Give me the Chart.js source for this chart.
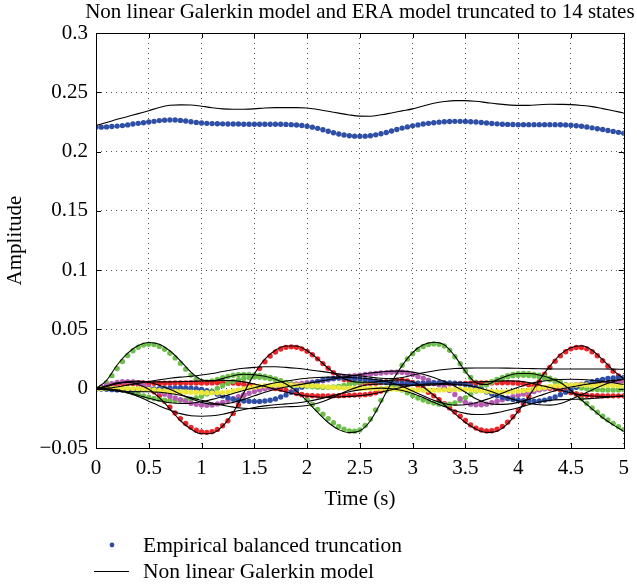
<!DOCTYPE html>
<html>
<head>
<meta charset="utf-8">
<script src="https://cdn.jsdelivr.net/npm/chart.js@4.4.1/dist/chart.umd.min.js"></script>
<style>
  html, body { margin: 0; padding: 0; background: #fff; }
  canvas { display: block; }
</style>
</head>
<body>
<canvas id="c" width="637" height="588"></canvas>
<script>
// ---------- tick labels ----------
const xTickValues = [0, 0.5, 1, 1.5, 2, 2.5, 3, 3.5, 4, 4.5, 5];
const xTickLabels = ["0", "0.5", "1", "1.5", "2", "2.5", "3", "3.5", "4", "4.5", "5"];
const yTickValues = [-0.05, 0, 0.05, 0.1, 0.15, 0.2, 0.25, 0.3];
const yTickLabels = ["\u22120.05", "0", "0.05", "0.1", "0.15", "0.2", "0.25", "0.3"];

// ---------- time samples ----------
const tDots = [0,.05,.1,.15,.2,.25,.3,.35,.4,.45,.5,.55,.6,.65,.7,.75,.8,.85,.9,.95,
1,1.05,1.1,1.15,1.2,1.25,1.3,1.35,1.4,1.45,1.5,1.55,1.6,1.65,1.7,1.75,1.8,1.85,1.9,1.95,
2,2.05,2.1,2.15,2.2,2.25,2.3,2.35,2.4,2.45,2.5,2.55,2.6,2.65,2.7,2.75,2.8,2.85,2.9,2.95,
3,3.05,3.1,3.15,3.2,3.25,3.3,3.35,3.4,3.45,3.5,3.55,3.6,3.65,3.7,3.75,3.8,3.85,3.9,3.95,
4,4.05,4.1,4.15,4.2,4.25,4.3,4.35,4.4,4.45,4.5,4.55,4.6,4.65,4.7,4.75,4.8,4.85,4.9,4.95,5];
const tLine = [0,.1,.2,.3,.4,.5,.6,.7,.8,.9,1,1.1,1.2,1.3,1.4,1.5,1.6,1.7,1.8,1.9,
2,2.1,2.2,2.3,2.4,2.5,2.6,2.7,2.8,2.9,3,3.1,3.2,3.3,3.4,3.5,3.6,3.7,3.8,3.9,
4,4.1,4.2,4.3,4.4,4.5,4.6,4.7,4.8,4.9,5];

// ---------- Empirical balanced truncation (dots) ----------
const ebtTop = [.2205,.2206,.2208,.2211,.2215,.2219,.2225,.2232,.2238,.2243,
.2249,.2255,.2261,.2265,.2267,.2266,.2263,.2258,.2252,.2246,
.2241,.2238,.2236,.2235,.2234,.2233,.2232,.2232,.2231,.2231,
.2231,.2231,.2231,.2231,.2231,.2230,.2229,.2227,.2224,.2220,
.2214,.2206,.2196,.2184,.2171,.2159,.2148,.2140,.2134,.2130,
.2129,.2130,.2134,.2141,.2150,.2161,.2173,.2186,.2198,.2208,
.2217,.2225,.2232,.2238,.2243,.2248,.2251,.2254,.2255,.2255,
.2254,.2252,.2249,.2245,.2241,.2237,.2234,.2231,.2229,.2228,
.2227,.2227,.2227,.2227,.2227,.2227,.2227,.2227,.2226,.2225,
.2222,.2218,.2213,.2207,.2200,.2193,.2186,.2178,.2170,.2162,
.2154];
const ebtGreen1 = [0,.001,.005,.011,.017,.023,.028,.032,.035,.0368,
.0375,.0372,.0357,.0333,.030,.026,.0215,.0165,.0115,.008,
.0062,.0058,.0065,.0078,.0092,.0104,.0113,.0119,.0121,.012,
.0117,.0112,.0104,.0094,.0082,.0068,.005,.0025,-.0008,-.0048,
-.009,-.0133,-.0175,-.0215,-.0252,-.0287,-.0318,-.0342,-.0356,-.0358,
-.0348,-.031,-.0255,-.018,-.0098,-.0015,.0065,.0138,.0198,.025,
.0295,.033,.0356,.0372,.0378,.0374,.036,.0325,.027,.021,
.015,.0095,.0055,.004,.0045,.006,.0078,.0095,.011,.012,
.0126,.0128,.0126,.0121,.0113,.0102,.0088,.0072,.0052,.0025,
-.001,-.0045,-.0085,-.0125,-.0163,-.0198,-.0232,-.0263,-.0292,-.032,
-.0345];
const ebtRed1 = [0,.0008,.0018,.003,.004,.0046,.0048,.0045,.0036,.0022,
.0002,-.0025,-.006,-.0105,-.0155,-.0205,-.0252,-.0293,-.0326,-.035,
-.0364,-.0368,-.0362,-.0343,-.0312,-.027,-.021,-.0135,-.0055,.0025,
.0102,.017,.0228,.0275,.031,.0335,.0349,.0353,.0349,.0336,
.0315,.0287,.0252,.0212,.0172,.0135,.0103,.0078,.0062,.0053,
.0048,.0046,.0046,.0047,.0052,.006,.0068,.0072,.0072,.0066,
.0052,.003,.0005,-.003,-.006,-.0093,-.0127,-.0162,-.0197,-.0232,
-.0268,-.0305,-.0332,-.0348,-.0356,-.0354,-.0342,-.0318,-.0282,-.0237,
-.0185,-.0127,-.0065,-.0002,.006,.0122,.018,.0232,.0277,.0312,
.0336,.0348,.0348,.0336,.0312,.0278,.0236,.0192,.0148,.0108,
.0075];
const ebtRed2 = [0,.001,.002,.003,.004,.0048,.0052,.0052,.005,.0048,
.0047,.0046,.0046,.0046,.0047,.0048,.0048,.0048,.0048,.0048,
.0048,.0048,.0049,.005,.005,.005,.0048,.0044,.0038,.003,
.0021,.0013,.0008,.0005,.0002,-.0004,-.0014,-.0027,-.004,-.005,
-.0056,-.0059,-.006,-.006,-.006,-.006,-.0059,-.0058,-.0056,-.0054,
-.0052,-.005,-.0045,-.0035,-.002,-.0003,.0012,.0025,.0034,.004,
.0043,.0044,.0044,.0044,.0043,.0042,.0042,.0042,.0043,.0044,
.0045,.0046,.0047,.0048,.0048,.0049,.005,.005,.005,.0049,
.0046,.0041,.0034,.0025,.0016,.0009,.0004,-.0001,-.0009,-.002,
-.0033,-.0044,-.0052,-.0056,-.0058,-.0059,-.006,-.006,-.006,-.006,
-.006];
const ebtMagenta = [0,.0012,.0028,.0042,.0053,.0059,.006,.0056,.0046,.0032,
.0014,-.0006,-.0027,-.0046,-.0063,-.0078,-.0093,-.0108,-.0122,-.0132,
-.0138,-.014,-.0137,-.0128,-.0115,-.01,-.0084,-.0068,-.0053,-.0038,
-.0024,-.0011,0,.0009,.0017,.0024,.003,.0035,.004,.0045,
.005,.0055,.006,.0067,.0075,.0083,.0091,.0098,.0105,.011,
.0115,.012,.0125,.0129,.0132,.0136,.0139,.014,.0139,.0132,
.012,.0104,.0088,.0071,.0053,.0034,.0012,-.0015,-.0048,-.0085,
-.0115,-.013,-.0135,-.0135,-.013,-.0119,-.0106,-.0093,-.008,-.0067,
-.0055,-.0045,-.0035,-.0023,-.001,0,.001,.0016,.0021,.0026,
.003,.0034,.0038,.0041,.0044,.0047,.005,.0052,.0054,.0056,
.0058];
const ebtBlue2 = [0,-.0002,-.0005,-.0008,-.001,-.0011,-.0011,-.001,-.0008,-.0006,
-.0004,-.0002,0,.0003,.0005,.0007,.0008,.0007,.0004,0,
-.0006,-.0016,-.003,-.0046,-.0062,-.0076,-.0088,-.0097,-.0103,-.0106,
-.0107,-.0107,-.0104,-.0097,-.0086,-.007,-.0052,-.003,-.0008,.0013,
.0033,.0049,.0062,.0073,.0081,.0087,.009,.0091,.009,.0087,
.0082,.0077,.0071,.0066,.006,.0055,.0051,.0048,.0046,.0045,
.0045,.0046,.0047,.0048,.0049,.005,.005,.0049,.0047,.0043,
.0036,.0025,.001,-.0008,-.0027,-.0045,-.006,-.0073,-.0083,-.0091,
-.0097,-.0101,-.0104,-.0105,-.0103,-.0096,-.0085,-.0069,-.005,-.0029,
-.0008,.0012,.003,.0046,.0059,.007,.0079,.0086,.0091,.0094,
.0096];
const ebtYellow = [0,.0001,.0002,.0003,.0003,.0003,.0002,.0001,0,-.0003,
-.0006,-.001,-.0014,-.0018,-.0021,-.0024,-.0026,-.0028,-.003,-.0031,
-.0032,-.0034,-.0035,-.0035,-.0033,-.0027,-.0019,-.001,-.0001,.0008,
.0015,.0021,.0025,.0028,.003,.0031,.0031,.0031,.003,.0029,
.0028,.0026,.0024,.002,.0015,.0011,.0008,.0005,.0004,.0003,
.0003,.0003,.0003,.0002,.0001,0,-.0002,-.0004,-.0006,-.0008,
-.001,-.0011,-.0012,-.0012,-.0012,-.0011,-.001,-.0008,-.0006,-.0005,
-.0006,-.0009,-.0013,-.0017,-.0021,-.0024,-.0026,-.0027,-.0026,-.0024,
-.002,-.0015,-.001,-.0003,.0004,.001,.0016,.0021,.0025,.0028,
.003,.0031,.0031,.0031,.003,.003,.0029,.0028,.0027,.0026,
.0025];
const ebtGreen2 = [0,0,0,-.0003,-.0007,-.0013,-.0022,-.0034,-.0047,-.006,
-.0072,-.0082,-.009,-.0096,-.0099,-.01,-.0099,-.0095,-.0088,-.0078,
-.0064,-.0045,-.0022,.0002,.0025,.0045,.0062,.0076,.0087,.0094,
.0098,.0097,.0092,.0084,.0074,.0063,.0052,.0042,.0034,.0027,
.0021,.0016,.0013,.0011,.0011,.0014,.0019,.0027,.0036,.0046,
.0055,.0062,.0066,.0066,.0061,.005,.0034,.0013,-.001,-.0035,
-.0058,-.0078,-.0095,-.0109,-.0121,-.013,-.0134,-.0131,-.012,-.01,
-.0075,-.0048,-.002,.0007,.0032,.0054,.0073,.0089,.0101,.0109,
.0113,.0114,.0112,.0107,.0099,.0088,.0075,.0061,.0047,.0034,
.0023,.0013,.0005,-.0001,-.0005,-.0008,-.001,-.0011,-.0011,-.001,
-.0008];

// ---------- Non linear Galerkin model (lines) ----------
const galTop = [.2219,.2245,.2272,.2296,.2320,.2345,.2372,.2390,.2394,.2393,
.2382,.2370,.2360,.2357,.2357,.2360,.2368,.2371,.2371,.2371,
.2368,.2355,.2340,.2324,.2309,.2299,.2298,.2310,.2326,.2343,
.2360,.2385,.2407,.2422,.2430,.2430,.2424,.2413,.2402,.2394,
.2390,.2390,.2395,.2399,.2398,.2396,.2389,.2379,.2362,.2344,.2326];
const galGreen1 = [0,.007,.02,.03,.0365,.039,.0375,.032,.0235,.014,
.0075,.0065,.0085,.011,.0122,.0118,.0105,.008,.004,-.002,
-.0105,-.02,-.0285,-.0345,-.037,-.0355,-.027,-.0115,.0055,.0195,
.0305,.037,.0392,.037,.0275,.0145,.005,.0035,.0075,.011,
.0128,.0128,.0115,.009,.005,-.0015,-.0095,-.017,-.0245,-.0305,-.036];
const galRed1 = [0,.0025,.005,.0055,.0035,-.0005,-.0075,-.017,-.027,-.034,
-.038,-.0375,-.0315,-.02,-.0035,.0125,.025,.0325,.036,.036,
.032,.0252,.0172,.0105,.0068,.0055,.0055,.0062,.0072,.0075,
.0058,.0015,-.0055,-.0135,-.021,-.0285,-.034,-.0368,-.0358,-.0295,
-.019,-.0065,.007,.019,.029,.0345,.0362,.0325,.0245,.0155,.0085];
const galUpper1 = [0,.0005,.0015,.003,.0045,.006,.0075,.0088,.0098,.0105,
.0115,.0128,.0145,.016,.0172,.018,.0185,.0185,.018,.0172,
.0162,.015,.0138,.0125,.0115,.0108,.0098,.0088,.0085,.0095,
.0115,.0135,.015,.0162,.017,.0174,.0175,.0175,.0175,.0174,
.0172,.017,.0168,.0167,.0166,.0166,.0166,.0166,.0166,.0165,.0163];
const galUpper2 = [0,.002,.0045,.006,.0065,.0055,.003,-.0005,-.0045,-.0085,
-.0115,-.013,-.013,-.0115,-.009,-.006,-.003,-.0005,.0015,.003,
.0045,.006,.0075,.009,.0105,.012,.0132,.0142,.0148,.0148,
.014,.0122,.0095,.006,.002,-.003,-.0085,-.012,-.0132,-.013,
-.0115,-.009,-.006,-.003,-.0005,.0015,.003,.0045,.0058,.007,.008];
const galLower1 = [0,-.0005,-.0015,-.0035,-.0065,-.0105,-.0145,-.018,-.021,-.0228,
-.0232,-.0228,-.0215,-.0195,-.0175,-.0158,-.0145,-.0135,-.0128,-.012,
-.0108,-.009,-.0068,-.0045,-.0025,-.001,0,.0005,0,-.0015,
-.004,-.0075,-.0115,-.015,-.0185,-.0208,-.0218,-.0215,-.0202,-.0182,
-.016,-.0135,-.0112,-.0098,-.0092,-.009,-.0088,-.0082,-.0075,-.0068,-.006];
const galLower2 = [0,0,-.001,-.003,-.0055,-.008,-.0102,-.0118,-.0125,-.0122,
-.011,-.009,-.0065,-.004,-.0015,.0008,.003,.005,.0065,.0078,
.0088,.0095,.0098,.0098,.0095,.009,.0082,.007,.005,.002,
-.002,-.006,-.0098,-.0125,-.0138,-.0135,-.0118,-.009,-.0055,-.002,
.0012,.004,.006,.0072,.0078,.008,.0078,.0072,.0062,.005,.0035];
const galBlue2 = [0,-.001,-.002,-.0025,-.0025,-.0025,-.003,-.004,-.0055,-.0075,
-.0098,-.012,-.014,-.0155,-.0165,-.0168,-.0165,-.0158,-.0152,-.015,
-.0142,-.0122,-.009,-.005,-.001,.002,.0035,.004,.0038,.0033,
.003,.003,.0032,.0035,.0035,.003,.0015,-.001,-.0042,-.0075,
-.0102,-.0122,-.0135,-.0138,-.0125,-.009,-.005,-.001,.003,.006,.008];
const galRed2 = [0,.002,.0042,.0055,.0058,.0058,.0058,.0058,.006,.0062,
.0065,.0068,.007,.0068,.0058,.004,.0018,-.0005,-.0028,-.0048,
-.0062,-.007,-.0072,-.007,-.0065,-.0058,-.0048,-.003,-.0008,.0012,
.0028,.0038,.0042,.0045,.0048,.0052,.0056,.006,.0064,.0066,
.0064,.0052,.0032,.001,-.0012,-.0035,-.0052,-.0062,-.0066,-.0066,-.0064];

// ---------- legend / titles ----------
const chartTitle = "Non linear Galerkin model and ERA model truncated to 14 states";
const xAxisTitle = "Time (s)";
const yAxisTitle = "Amplitude";
const legendLabels = ["Empirical balanced truncation", "Non linear Galerkin model"];

// ---------- styles ----------
const COL = { blue: '#2f4fa6', green: '#6dbf4a', red: '#ee2328', magenta: '#b65bb2', yellow: '#ece83a' };
const FONT = 'Liberation Serif';

function pts(ts, ys) { return ts.map((t, i) => ({ x: t, y: ys[i] })); }
function dots(ys, color) {
  return { data: pts(tDots, ys), showLine: false, pointRadius: 2.7, pointHoverRadius: 2.7,
           pointBorderWidth: 0, pointBackgroundColor: color, borderColor: color, order: 2 };
}
function line(ys) {
  return { data: pts(tLine, ys), showLine: true, pointRadius: 0, borderColor: '#000',
           borderWidth: 1.1, cubicInterpolationMode: 'monotone', fill: false, order: 1 };
}

const datasets = [
  line(galTop), line(galGreen1), line(galRed1), line(galUpper1), line(galUpper2),
  line(galLower1), line(galLower2), line(galBlue2), line(galRed2),
  dots(ebtTop, COL.blue), dots(ebtYellow, COL.yellow), dots(ebtBlue2, COL.blue),
  dots(ebtMagenta, COL.magenta), dots(ebtGreen2, COL.green), dots(ebtRed2, COL.red),
  dots(ebtGreen1, COL.green), dots(ebtRed1, COL.red)
];

const framePlugin = {
  id: 'frame',
  afterDraw(chart) {
    const ctx = chart.ctx, a = chart.chartArea;
    const xs = chart.scales.x, ys = chart.scales.y;
    ctx.save();
    ctx.strokeStyle = '#000';
    ctx.lineWidth = 1;
    ctx.strokeRect(Math.round(a.left) + 0.5, Math.round(a.top) + 0.5,
                   Math.round(a.right - a.left), Math.round(a.bottom - a.top));
    const tl = 5;
    ctx.beginPath();
    xTickValues.forEach(v => {
      const px = Math.round(xs.getPixelForValue(v)) + 0.5;
      ctx.moveTo(px, a.bottom); ctx.lineTo(px, a.bottom - tl);
      ctx.moveTo(px, a.top); ctx.lineTo(px, a.top + tl);
    });
    yTickValues.forEach(v => {
      const py = Math.round(ys.getPixelForValue(v)) + 0.5;
      ctx.moveTo(a.left, py); ctx.lineTo(a.left + tl, py);
      ctx.moveTo(a.right, py); ctx.lineTo(a.right - tl, py);
    });
    ctx.stroke();

    ctx.fillStyle = '#000';
    ctx.font = '21px "' + FONT + '"';
    ctx.textBaseline = 'alphabetic';
    ctx.textAlign = 'center';
    ctx.fillText(chartTitle, (a.left + a.right) / 2, 18);
    ctx.fillText(xAxisTitle, (a.left + a.right) / 2, 505);
    ctx.save();
    ctx.translate(21, (a.top + a.bottom) / 2);
    ctx.rotate(-Math.PI / 2);
    ctx.fillText(yAxisTitle, 0, 0);
    ctx.restore();

    // legend
    ctx.font = '21.5px "' + FONT + '"';
    ctx.textAlign = 'left';
    ctx.textBaseline = 'middle';
    ctx.fillStyle = COL.blue;
    ctx.beginPath(); ctx.arc(112, 545, 2.4, 0, Math.PI * 2); ctx.fill();
    ctx.strokeStyle = '#000'; ctx.lineWidth = 1;
    ctx.beginPath(); ctx.moveTo(94, 571.5); ctx.lineTo(129, 571.5); ctx.stroke();
    ctx.fillStyle = '#000';
    ctx.fillText(legendLabels[0], 143, 546);
    ctx.fillText(legendLabels[1], 143, 572);
    ctx.restore();
  }
};

new Chart(document.getElementById('c'), {
  type: 'scatter',
  data: { datasets },
  options: {
    responsive: false,
    animation: false,
    devicePixelRatio: 1,
    layout: { padding: { top: 33, right: 11, left: 0, bottom: 0 } },
    plugins: { legend: { display: false }, title: { display: false }, tooltip: { enabled: false } },
    events: [],
    scales: {
      x: {
        type: 'linear', min: 0, max: 5,
        afterBuildTicks: s => { s.ticks = xTickValues.map(v => ({ value: v })); },
        afterFit: s => { s.height = 140; },
        ticks: { font: { family: FONT, size: 21 }, color: '#000', padding: 8, maxRotation: 0, autoSkip: false,
                 callback: (v, i) => xTickLabels[i] },
        grid: { color: '#555', lineWidth: 1, drawTicks: false },
        border: { display: false, dash: [1, 4] }
      },
      y: {
        type: 'linear', min: -0.05, max: 0.3,
        afterBuildTicks: s => { s.ticks = yTickValues.map(v => ({ value: v })); },
        afterFit: s => { s.width = 96; },
        ticks: { font: { family: FONT, size: 21 }, color: '#000', padding: 8, autoSkip: false,
                 callback: (v, i) => yTickLabels[i] },
        grid: { color: '#555', lineWidth: 1, drawTicks: false },
        border: { display: false, dash: [1, 4] }
      }
    }
  },
  plugins: [framePlugin]
});
</script>
</body>
</html>
